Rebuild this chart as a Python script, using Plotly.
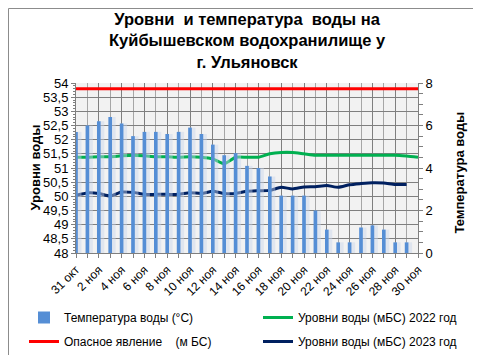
import plotly.graph_objects as go

# ---- data ----
days = list(range(31))  # 31 окт .. 30 ноя
tick_idx = list(range(0, 31, 2))
tick_labels = ["31 окт", "2 ноя", "4 ноя", "6 ноя", "8 ноя", "10 ноя", "12 ноя", "14 ноя",
               "16 ноя", "18 ноя", "20 ноя", "22 ноя", "24 ноя", "26 ноя", "28 ноя", "30 ноя"]

temperature = [5.7, 6.0, 6.2, 6.4, 6.1, 5.5, 5.7, 5.7, 5.6, 5.7, 5.9, 5.6, 5.1, 4.6, 4.7,
               4.1, 4.0, 3.6, 2.7, 2.7, 2.7, 2.0, 1.1, 0.5, 0.5, 1.2, 1.3, 1.1, 0.5, 0.5]

level_2022 = [51.38, 51.38, 51.40, 51.40, 51.43, 51.45, 51.43, 51.40, 51.40, 51.38, 51.40,
              51.38, 51.32, 51.15, 51.38, 51.38, 51.38, 51.50, 51.55, 51.55, 51.50, 51.45,
              51.45, 51.45, 51.45, 51.45, 51.45, 51.45, 51.45, 51.42, 51.38]

level_2023 = [50.04, 50.12, 50.10, 50.01, 50.15, 50.14, 50.07, 50.07, 50.07, 50.07, 50.13,
              50.10, 50.18, 50.10, 50.10, 50.18, 50.20, 50.21, 50.32, 50.26, 50.33, 50.34,
              50.38, 50.32, 50.41, 50.45, 50.48, 50.47, 50.42, 50.42]

danger_level = [53.8] * 31

FONT = "Liberation Sans"

fig = go.Figure()

# bar shadow (soft)
fig.add_trace(go.Bar(x=days[:len(temperature)], y=temperature, yaxis="y2",
                     marker=dict(color="rgba(200,212,235,0.45)", line=dict(width=0)),
                     width=0.6, offset=-0.12, showlegend=False, hoverinfo="skip"))
fig.add_trace(go.Bar(x=days[:len(temperature)], y=temperature, yaxis="y2",
                     name="Температура воды (°С)", legend="legend", legendgroup="a",
                     marker=dict(color="#558ED5", line=dict(width=0)),
                     width=0.32, offset=-0.16))
fig.add_trace(go.Scatter(x=days, y=level_2022, mode="lines", name="Уровни воды (мБС) 2022 год",
                         legend="legend2", legendgroup="b",
                         line=dict(color="#00B050", width=3, shape="spline", smoothing=0.6)))
fig.add_trace(go.Scatter(x=days, y=danger_level, mode="lines", name="Опасное явление    (м БС)",
                         legend="legend", legendgroup="c",
                         line=dict(color="#FF0000", width=3)))
fig.add_trace(go.Scatter(x=days[:len(level_2023)], y=level_2023, mode="lines",
                         name="Уровни воды (мБС) 2023 год", legend="legend2", legendgroup="d",
                         line=dict(color="#002060", width=3, shape="spline", smoothing=0.6)))

W, H = 481, 355
L, R, T, B = 68, 71, 75, 110
pw, ph = W - L - R, H - T - B

def px(x):
    return (x - L) / pw

def py(y):
    return (H - B - y) / ph

legend_common = dict(orientation="v", yanchor="top", font=dict(size=12),
                     bgcolor="rgba(0,0,0,0)", itemwidth=30, tracegroupgap=5,
                     xanchor="left")

fig.update_layout(
    width=W, height=H,
    margin=dict(l=L, r=R, t=T, b=B, pad=0, autoexpand=False),
    paper_bgcolor="white",
    plot_bgcolor="#F2F2F2",
    barmode="overlay",
    font=dict(family=FONT, size=12, color="#000000"),
    xaxis=dict(range=[0, 30], tickmode="array", tickvals=tick_idx, ticktext=tick_labels,
               tickangle=-45, tickfont=dict(size=12), showgrid=True, gridcolor="#7F7F7F",
               gridwidth=1, ticks="outside", ticklen=4, tickcolor="#7F7F7F",
               showline=True, linecolor="#7F7F7F", zeroline=False, automargin=False,
               minor=dict(dtick=1, tick0=0, showgrid=True, gridcolor="#A6A6A6",
                          ticks="outside", ticklen=4, tickcolor="#7F7F7F")),
    yaxis=dict(range=[48, 54], dtick=0.5, tick0=48, tickformat=",.1~f", showgrid=True,
               gridcolor="#7F7F7F", gridwidth=1, ticks="outside", ticklen=4, tickcolor="#7F7F7F",
               showline=True, linecolor="#7F7F7F", zeroline=False, tickfont=dict(size=13),
               automargin=False,
               minor=dict(dtick=0.1, ticks="outside", ticklen=2, tickcolor="#7F7F7F", showgrid=False)),
    yaxis2=dict(range=[0, 8], dtick=2, overlaying="y", side="right", showgrid=False,
                ticks="outside", ticklen=4, tickcolor="#7F7F7F", showline=True,
                linecolor="#7F7F7F", zeroline=False, tickfont=dict(size=13), automargin=False,
                minor=dict(dtick=0.5, ticks="outside", ticklen=4, tickcolor="#7F7F7F")),
    separators=", ",
    legend=dict(x=px(16), y=py(295), **legend_common),
    legend2=dict(x=px(250), y=py(295), **legend_common),
    annotations=[
        dict(text="<b>Уровни  и температура  воды на<br>Куйбышевском водохранилище у<br>г. Ульяновск</b>",
             x=0.5, y=py(32), xref="paper", yref="paper", xanchor="center", yanchor="middle",
             showarrow=False, font=dict(size=16.5, family=FONT)),
        dict(text="<b>Уровни воды</b>", x=px(17), y=py(160), xref="paper", yref="paper",
             textangle=-90, showarrow=False, font=dict(size=13, family=FONT)),
        dict(text="<b>Температура воды</b>", x=px(460), y=py(165), xref="paper", yref="paper",
             textangle=-90, showarrow=False, font=dict(size=13, family=FONT)),
    ],
    shapes=[dict(type="rect", xref="paper", yref="paper",
                 x0=px(0.5), x1=px(480.5), y0=py(353.5), y1=py(0.5),
                 line=dict(color="#8C8C8C", width=1), fillcolor="rgba(0,0,0,0)", layer="below")],
)

fig.write_html("out.html")
